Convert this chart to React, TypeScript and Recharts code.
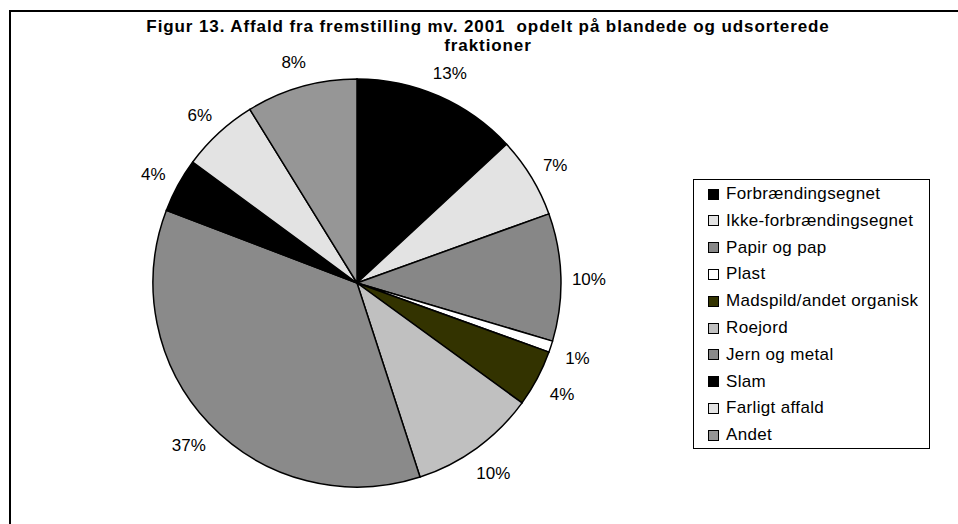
import React from "react";
import { PieChart, Pie, Cell, Legend } from "recharts";

const categories = [
  "Forbrændingsegnet",
  "Ikke-forbrændingsegnet",
  "Papir og pap",
  "Plast",
  "Madspild/andet organisk",
  "Roejord",
  "Jern og metal",
  "Slam",
  "Farligt affald",
  "Andet",
];
const shares = [13.1, 6.4, 10.1, 0.9, 4.5, 10.0, 35.8, 4.3, 6.1, 8.8];
const shareLabels = ["13%", "7%", "10%", "1%", "4%", "10%", "37%", "4%", "6%", "8%"];
const colors = [
  "#000000",
  "#e3e3e3",
  "#878787",
  "#ffffff",
  "#333300",
  "#c0c0c0",
  "#8a8a8a",
  "#000000",
  "#e3e3e3",
  "#969696",
];
const titleLines = [
  "Figur 13. Affald fra fremstilling mv. 2001  opdelt på blandede og udsorterede",
  "fraktioner",
];

const data = categories.map((name, i) => ({ name, value: shares[i] }));

const FONT = "'Liberation Sans', Arial, sans-serif";
const RAD = Math.PI / 180;

const renderLabel = (props: any) => {
  const { cx, cy, midAngle, outerRadius, index } = props;
  const r = outerRadius + 28;
  const x = cx + r * Math.cos(-midAngle * RAD);
  const y = cy + r * Math.sin(-midAngle * RAD) + 3;
  return (
    <text
      x={x}
      y={y}
      textAnchor="middle"
      dominantBaseline="central"
      fontFamily={FONT}
      fontSize={17}
      fill="#000"
    >
      {shareLabels[index]}
    </text>
  );
};

const LegendBox = () => (
  <div
    style={{
      position: "relative",
      width: 237,
      height: 270,
      border: "1.5px solid #000",
      boxSizing: "border-box",
      background: "#fff",
    }}
  >
    {categories.map((name, i) => (
      <div
        key={name}
        style={{
          position: "absolute",
          left: 14,
          top: 4 + i * 26.8,
          height: 20,
          display: "flex",
          alignItems: "center",
          fontFamily: FONT,
          fontSize: 17,
          letterSpacing: 0.35,
          whiteSpace: "nowrap",
          color: "#000",
        }}
      >
        <span
          style={{
            display: "inline-block",
            width: 9,
            height: 9,
            background: colors[i],
            border: "1px solid #000",
            marginRight: 7,
          }}
        />
        {name}
      </div>
    ))}
  </div>
);

export default function App() {
  return (
    <div
      style={{
        position: "fixed",
        left: 0,
        top: 0,
        width: 958,
        height: 524,
        overflow: "hidden",
        background: "#fff",
      }}
    >
      <div
        style={{
          position: "absolute",
          left: 9,
          top: 10,
          width: 1000,
          height: 600,
          border: "2px solid #000",
        }}
      />
      {titleLines.map((line, i) => (
        <div
          key={i}
          style={{
            position: "absolute",
            left: 488,
            top: 17 + i * 19,
            transform: "translateX(-50%)",
            fontFamily: FONT,
            fontWeight: "bold",
            fontSize: 17,
            letterSpacing: 0.9,
            lineHeight: "19px",
            whiteSpace: "pre",
          }}
        >
          {line}
        </div>
      ))}
      <div style={{ position: "absolute", left: 0, top: 0 }}>
        <PieChart width={958} height={524} margin={{ top: 0, right: 0, bottom: 0, left: 0 }}>
          <Pie
            data={data}
            dataKey="value"
            nameKey="name"
            cx={357}
            cy={283}
            outerRadius={204}
            startAngle={90}
            endAngle={-270}
            stroke="#000"
            strokeWidth={1.5}
            label={renderLabel}
            labelLine={false}
            isAnimationActive={false}
          >
            {data.map((d, i) => (
              <Cell key={d.name} fill={colors[i]} />
            ))}
          </Pie>
          <Legend
            content={() => <LegendBox />}
            wrapperStyle={{ position: "absolute", left: 693, top: 179, width: 237, height: 270 }}
          />
        </PieChart>
      </div>
    </div>
  );
}
